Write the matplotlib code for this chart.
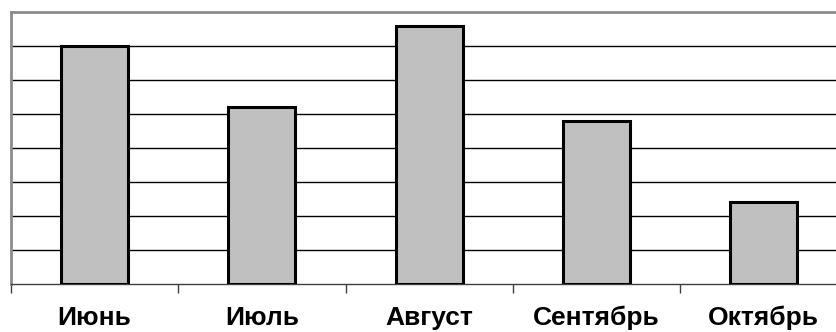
import matplotlib
matplotlib.use("Agg")
import matplotlib.pyplot as plt
import numpy as np

months = ["Июнь", "Июль", "Август", "Сентябрь", "Октябрь"]
values = [7.0, 5.2, 7.6, 4.8, 2.4]
y_max = 8
grid_levels = list(range(1, y_max))

W, H = 836, 332
fig = plt.figure(figsize=(W / 100, H / 100), dpi=100)
ax = fig.add_axes([11 / W, 48 / H, 836.25 / W, 272 / H])

x = np.arange(len(months))
ax.bar(x, values, width=0.4, color="#C0C0C0", edgecolor="black",
       linewidth=2.2, zorder=3)

ax.set_xlim(-0.5, len(months) - 0.5)
ax.set_ylim(0, y_max)

# horizontal gridlines
for g in grid_levels:
    ax.axhline(g, color="black", linewidth=1.0, zorder=1)

ax.set_yticks([])
ax.set_xticks(np.arange(len(months) + 1) - 0.5)
ax.set_xticklabels([])
ax.tick_params(axis="x", which="major", direction="out", length=6.5,
               width=1.0, color="#404040")
ax.set_xticks(x, minor=True)
ax.set_xticklabels(months, minor=True, fontfamily="Liberation Sans",
                   fontweight="bold", fontsize=19)
ax.tick_params(axis="x", which="minor", length=0, pad=15.5)

for side in ("left", "top"):
    ax.spines[side].set_color("#8C8C8C")
    ax.spines[side].set_linewidth(2.0)
ax.spines["right"].set_visible(False)
ax.spines["bottom"].set_color("#404040")
ax.spines["bottom"].set_linewidth(1.0)

fig.savefig("out.png", dpi=100)
